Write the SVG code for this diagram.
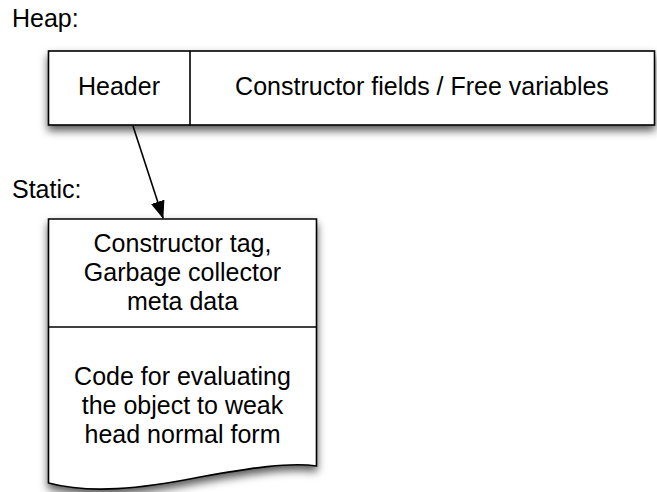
<svg xmlns="http://www.w3.org/2000/svg" width="657" height="492" viewBox="0 0 657 492">
  <style>
    text { font-family: "Liberation Sans", Arial, Helvetica, sans-serif; font-size: 25px; fill: #000; }
    .c { text-anchor: middle; }
    .box { fill: #fff; stroke: #000; stroke-width: 1.6; }
    .line { fill: none; stroke: #000; stroke-width: 1.6; }
  </style>
  <defs>
    <filter id="shadow" x="-10%" y="-10%" width="120%" height="130%">
      <feDropShadow dx="0" dy="5" stdDeviation="4" flood-color="#000" flood-opacity="0.65"/>
    </filter>
    <marker id="arrow" markerWidth="18" markerHeight="14" refX="17" refY="7" orient="auto" markerUnits="userSpaceOnUse" viewBox="0 0 18 14">
      <path d="M0,0 L18,7 L0,14 Z" fill="#000"/>
    </marker>
  </defs>

  <!-- section labels -->
  <text x="12" y="27">Heap:</text>
  <text x="12" y="198">Static:</text>

  <!-- heap object: header + payload -->
  <g id="heap-object">
    <rect class="box" x="48.5" y="51" width="606" height="74" filter="url(#shadow)"/>
    <line class="line" x1="190" y1="51" x2="190" y2="125"/>
    <text class="c" x="119" y="95">Header</text>
    <text class="c" x="422" y="95">Constructor fields / Free variables</text>
  </g>

  <!-- info table in static memory -->
  <g id="info-table">
    <path class="box" filter="url(#shadow)" d="M48.5,219 H316.5 V466 C290,462 250,468 200,477 C140,489 90,494 48.5,483 Z"/>
    <line class="line" x1="48.5" y1="327" x2="316.5" y2="327"/>
    <text class="c" x="182.5" y="252">Constructor tag,</text>
    <text class="c" x="182.5" y="281">Garbage collector</text>
    <text class="c" x="182.5" y="310">meta data</text>
    <text class="c" x="182.5" y="385">Code for evaluating</text>
    <text class="c" x="182.5" y="414">the object to weak</text>
    <text class="c" x="182.5" y="443">head normal form</text>
  </g>

  <!-- header points to its info table -->
  <g id="connectors">
    <line class="line" x1="133" y1="126" x2="163" y2="218" marker-end="url(#arrow)"/>
  </g>
</svg>
